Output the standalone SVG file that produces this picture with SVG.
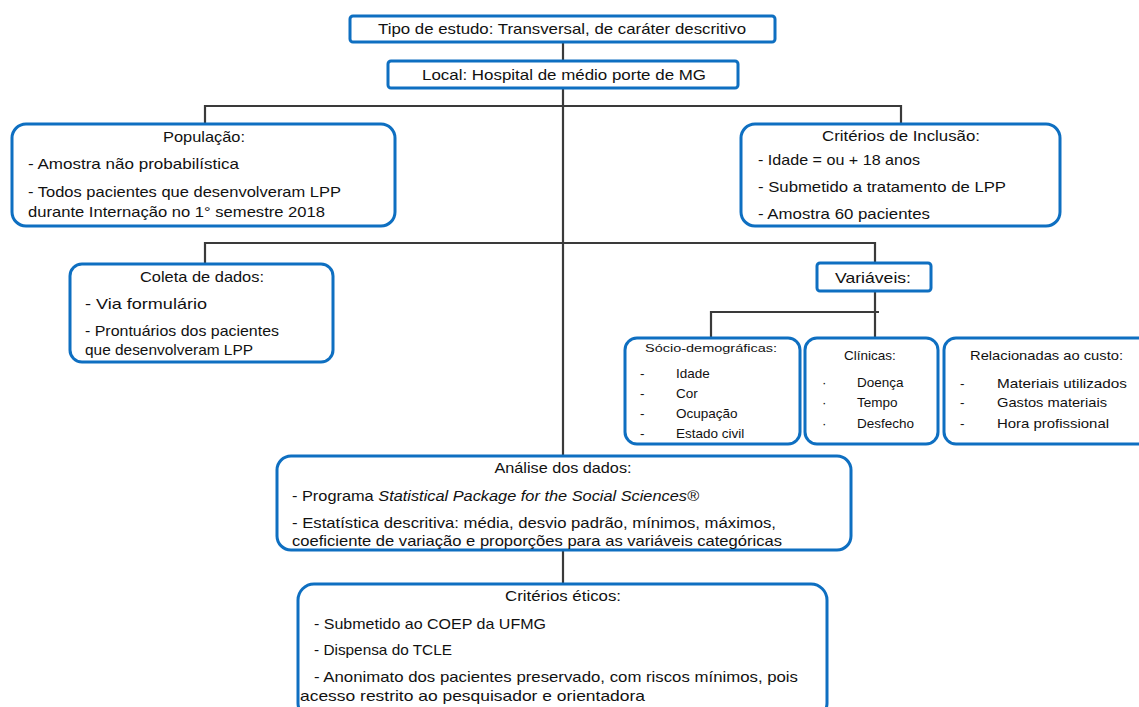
<svg xmlns="http://www.w3.org/2000/svg" width="1139" height="707" viewBox="0 0 1139 707">
<style>
.box{fill:#fff;stroke:#0e6fc1;stroke-width:3}
.c{fill:none;stroke:#3a3a3a;stroke-width:2.2}
text{font-family:"Liberation Sans",Arial,sans-serif;font-size:15px;fill:#111}
.m{text-anchor:middle}
.s{font-size:13.5px}
.xs{font-size:11.5px}
</style>
<rect width="1139" height="707" fill="#fff"/>
<g id="connectors">
<path class="c" d="M563 42V60M563 88V455M563 550V583"/>
<path class="c" d="M205 124V106H901V124"/>
<path class="c" d="M205 263V243H563M563 243H875V263"/>
<path class="c" d="M875 291V337M711 337V312H879"/>
</g>
<g id="tipo">
<rect class="box" x="350" y="16" width="425" height="26" rx="3"/>
<text class="m" x="562" y="34" textLength="368" lengthAdjust="spacingAndGlyphs">Tipo de estudo: Transversal, de caráter descritivo</text>
</g>
<g id="local">
<rect class="box" x="388" y="61" width="350" height="27" rx="3"/>
<text x="422" y="80" textLength="284" lengthAdjust="spacingAndGlyphs">Local: Hospital de médio porte de MG</text>
</g>
<g id="populacao">
<rect class="box" x="12" y="124" width="383" height="102" rx="14"/>
<text class="m" x="204" y="142" textLength="82" lengthAdjust="spacingAndGlyphs">População:</text>
<text x="28" y="169" textLength="211" lengthAdjust="spacingAndGlyphs">- Amostra não probabilística</text>
<text x="28" y="197" textLength="313" lengthAdjust="spacingAndGlyphs">- Todos pacientes que desenvolveram LPP</text>
<text x="28" y="217" textLength="297" lengthAdjust="spacingAndGlyphs">durante Internação no 1° semestre 2018</text>
</g>
<g id="inclusao">
<rect class="box" x="741" y="124" width="319" height="102" rx="14"/>
<text class="m" x="901" y="141" textLength="158" lengthAdjust="spacingAndGlyphs">Critérios de Inclusão:</text>
<text x="758" y="165" textLength="162" lengthAdjust="spacingAndGlyphs">- Idade = ou + 18 anos</text>
<text x="758" y="192" textLength="248" lengthAdjust="spacingAndGlyphs">- Submetido a tratamento de LPP</text>
<text x="758" y="219" textLength="172" lengthAdjust="spacingAndGlyphs">- Amostra 60 pacientes</text>
</g>
<g id="coleta">
<rect class="box" x="70" y="264" width="263" height="98" rx="12"/>
<text class="m" x="202" y="282" textLength="124" lengthAdjust="spacingAndGlyphs">Coleta de dados:</text>
<text x="85" y="309" textLength="122" lengthAdjust="spacingAndGlyphs">- Via formulário</text>
<text x="85" y="336" textLength="194" lengthAdjust="spacingAndGlyphs">- Prontuários dos pacientes</text>
<text x="85" y="355" textLength="168" lengthAdjust="spacingAndGlyphs">que desenvolveram LPP</text>
</g>
<g id="variaveis">
<rect class="box" x="817" y="263" width="114" height="28" rx="3"/>
<text class="m" x="873" y="283" textLength="76" lengthAdjust="spacingAndGlyphs">Variáveis:</text>
</g>
<g id="socio">
<rect class="box" x="625" y="338" width="175" height="106" rx="12"/>
<text class="xs" x="645" y="352" textLength="132" lengthAdjust="spacingAndGlyphs">Sócio-demográficas:</text>
<text class="s" x="640" y="378">-</text>
<text class="s" x="676" y="378">Idade</text>
<text class="s" x="640" y="398">-</text>
<text class="s" x="676" y="398">Cor</text>
<text class="s" x="640" y="418">-</text>
<text class="s" x="676" y="418">Ocupação</text>
<text class="s" x="640" y="438">-</text>
<text class="s" x="676" y="438">Estado civil</text>
</g>
<g id="clinicas">
<rect class="box" x="805" y="338" width="133" height="106" rx="12"/>
<text class="s m" x="870" y="360">Clínicas:</text>
<text class="s" x="822" y="387">·</text>
<text class="s" x="857" y="387">Doença</text>
<text class="s" x="822" y="407">·</text>
<text class="s" x="857" y="407">Tempo</text>
<text class="s" x="822" y="428">·</text>
<text class="s" x="857" y="428">Desfecho</text>
</g>
<g id="custo">
<rect class="box" x="944" y="338" width="210" height="106" rx="12"/>
<text class="s" x="970" y="360" textLength="153" lengthAdjust="spacingAndGlyphs">Relacionadas  ao custo:</text>
<text class="s" x="960" y="388">-</text>
<text class="s" x="997" y="388" textLength="130" lengthAdjust="spacingAndGlyphs">Materiais utilizados</text>
<text class="s" x="960" y="407">-</text>
<text class="s" x="997" y="407" textLength="110" lengthAdjust="spacingAndGlyphs">Gastos materiais</text>
<text class="s" x="960" y="428">-</text>
<text class="s" x="997" y="428" textLength="112" lengthAdjust="spacingAndGlyphs">Hora profissional</text>
</g>
<g id="analise">
<rect class="box" x="277" y="456" width="574" height="94" rx="14"/>
<text class="m" x="563" y="473" textLength="137" lengthAdjust="spacingAndGlyphs">Análise dos dados:</text>
<text x="292" y="501" textLength="407" lengthAdjust="spacingAndGlyphs">- Programa <tspan font-style="italic">Statistical Package for the Social Sciences®</tspan></text>
<text x="292" y="528" textLength="484" lengthAdjust="spacingAndGlyphs">- Estatística descritiva: média, desvio padrão,  mínimos, máximos,</text>
<text x="292" y="546" textLength="490" lengthAdjust="spacingAndGlyphs">coeficiente de variação e proporções para as variáveis categóricas</text>
</g>
<g id="eticos">
<rect class="box" x="298" y="584" width="529" height="135" rx="16"/>
<text class="m" x="563" y="601" textLength="116" lengthAdjust="spacingAndGlyphs">Critérios éticos:</text>
<text x="314" y="629" textLength="232" lengthAdjust="spacingAndGlyphs">- Submetido ao COEP da UFMG</text>
<text x="314" y="655" textLength="138" lengthAdjust="spacingAndGlyphs">- Dispensa do TCLE</text>
<text x="314" y="682" textLength="484" lengthAdjust="spacingAndGlyphs">- Anonimato dos pacientes preservado, com riscos mínimos, pois</text>
<text x="300" y="701" textLength="345" lengthAdjust="spacingAndGlyphs">acesso restrito ao pesquisador e orientadora</text>
</g>
</svg>
